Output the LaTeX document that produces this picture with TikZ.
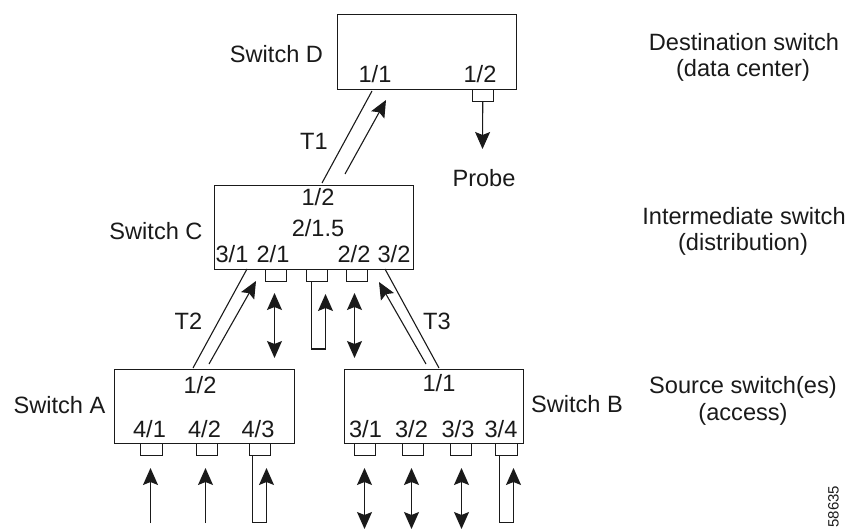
\documentclass[tikz,border=0pt]{standalone}
\usepackage{fontspec}
\setmainfont{Liberation Sans}
\usetikzlibrary{arrows.meta}
\definecolor{ink}{HTML}{1A1A1A}
\tikzset{
  x=1pt,y=-1pt,
  switchbox/.style={draw=ink,line width=1.1pt,fill=white,inner sep=0pt,anchor=north west},
  portbox/.style={draw=ink,line width=1pt,fill=white,inner sep=0pt,minimum width=21.5pt,minimum height=12pt,anchor=north west},
  lab/.style={inner sep=0pt,anchor=base,text=ink,font=\fontsize{23.6}{28}\selectfont},
  wire/.style={draw=ink,line width=1.1pt},
  flow/.style={wire,-{Stealth[length=17pt,width=15pt,inset=3pt]}},
  biflow/.style={wire,{Stealth[length=17pt,width=15pt,inset=3pt]}-{Stealth[length=17pt,width=15pt,inset=3pt]}},
}
\begin{document}
\begin{tikzpicture}
\useasboundingbox (0,0) rectangle (850,529);
% switches
\node[switchbox,minimum width=179.5pt,minimum height=75pt] (swd) at (336.5,14) {};
\node[switchbox,minimum width=199.5pt,minimum height=84pt] (swc) at (213.5,185) {};
\node[switchbox,minimum width=179.5pt,minimum height=74pt] (swa) at (114,369) {};
\node[switchbox,minimum width=179.5pt,minimum height=74pt] (swb) at (343.5,369) {};
% ports
\node[portbox] (pd) at (471.5,89) {};
\node[portbox] (pc1) at (264.5,269) {};
\node[portbox] (pc2) at (305.5,269) {};
\node[portbox] (pc3) at (345.5,269) {};
\node[portbox] (pa1) at (140,443) {};
\node[portbox] (pa2) at (195.5,443) {};
\node[portbox] (pa3) at (248.5,443) {};
\node[portbox] (pb1) at (353.5,443) {};
\node[portbox] (pb2) at (401.5,443) {};
\node[portbox] (pb3) at (449.5,443) {};
\node[portbox] (pb4) at (495,443) {};
% free ends
\coordinate (t1a) at (372,91); \coordinate (t1b) at (322,183);
\coordinate (t1c) at (345,174); \coordinate (t1d) at (386,100);
\coordinate (t2a) at (247,269); \coordinate (t2b) at (193,368);
\coordinate (t2c) at (209,364); \coordinate (t2d) at (256,281);
\coordinate (t3a) at (385,269); \coordinate (t3b) at (439,368);
\coordinate (t3c) at (426,364); \coordinate (t3d) at (379,282);
\coordinate (probe) at (482.5,149);
% links
\draw[wire] (t1a) -- (t1b);
\draw[flow] (t1c) -- (t1d);
\draw[wire] (t2a) -- (t2b);
\draw[flow] (t2c) -- (t2d);
\draw[wire] (t3a) -- (t3b);
\draw[flow] (t3c) -- (t3d);
\draw[flow] (pd.south) -- (probe);
% switch C traffic
\coordinate (c1t) at (274.5,293); \coordinate (c1b) at (274.5,358);
\coordinate (c3t) at (354.5,293); \coordinate (c3b) at (354.5,358);
\draw[biflow] (c1b) -- (c1t);
\draw[biflow] (c3b) -- (c3t);
\draw[flow] (311.5,281) -- (311.5,349) -- (325.5,349) -- (325.5,294);
% switch A traffic
\coordinate (a1t) at (150.5,468); \coordinate (a1b) at (150.5,523);
\coordinate (a2t) at (205.5,468); \coordinate (a2b) at (205.5,523);
\draw[flow] (a1b) -- (a1t);
\draw[flow] (a2b) -- (a2t);
\draw[flow] (252.5,455) -- (252.5,522.5) -- (266.5,522.5) -- (266.5,468);
% switch B traffic
\coordinate (b1t) at (364.5,468); \coordinate (b1b) at (364.5,529);
\coordinate (b2t) at (411.5,468); \coordinate (b2b) at (411.5,529);
\coordinate (b3t) at (461.5,468); \coordinate (b3b) at (461.5,529);
\draw[biflow] (b1b) -- (b1t);
\draw[biflow] (b2b) -- (b2t);
\draw[biflow] (b3b) -- (b3t);
\draw[flow] (499.5,455) -- (499.5,522.5) -- (513.5,522.5) -- (513.5,468);
% labels
\node[lab] (lsd) at (276.5,63) {Switch D};
\node[lab] (ld1) at (375,83) {1/1};
\node[lab] (ld2) at (480,83) {1/2};
\node[lab] (lt1) at (314,150) {T1};
\node[lab] (lprobe) at (484,187) {Probe};
\node[lab] (ldest) at (744,51) {Destination switch};
\node[lab] (ldest2) at (743,76.5) {(data center)};
\node[lab] (lsc) at (156,240) {Switch C};
\node[lab] (lc1) at (318,206) {1/2};
\node[lab] (lc2) at (318,236.5) {2/1.5};
\node[lab] (lc3) at (232,262.5) {3/1};
\node[lab] (lc4) at (273,262.5) {2/1};
\node[lab] (lc5) at (354,262.5) {2/2};
\node[lab] (lc6) at (394,262.5) {3/2};
\node[lab] (lint) at (744,224) {Intermediate switch};
\node[lab] (lint2) at (743,250.5) {(distribution)};
\node[lab] (lt2) at (188.5,329) {T2};
\node[lab] (lt3) at (437,329) {T3};
\node[lab] (lsa) at (59.5,413) {Switch A};
\node[lab] (la0) at (200,393) {1/2};
\node[lab] (la1) at (149.5,437) {4/1};
\node[lab] (la2) at (204.5,437) {4/2};
\node[lab] (la3) at (258,437) {4/3};
\node[lab] (lsb) at (577,412.5) {Switch B};
\node[lab] (lb0) at (439,391.5) {1/1};
\node[lab] (lb1) at (365.5,437) {3/1};
\node[lab] (lb2) at (411.5,437) {3/2};
\node[lab] (lb3) at (458,437) {3/3};
\node[lab] (lb4) at (501,437) {3/4};
\node[lab] (lsrc) at (743,393) {Source switch(es)};
\node[lab] (lsrc2) at (743,420) {(access)};
\node[inner sep=0pt,rotate=90,text=ink,font=\fontsize{15}{18}\selectfont] (fig) at (833.5,506.5) {58635};
\end{tikzpicture}
\end{document}
